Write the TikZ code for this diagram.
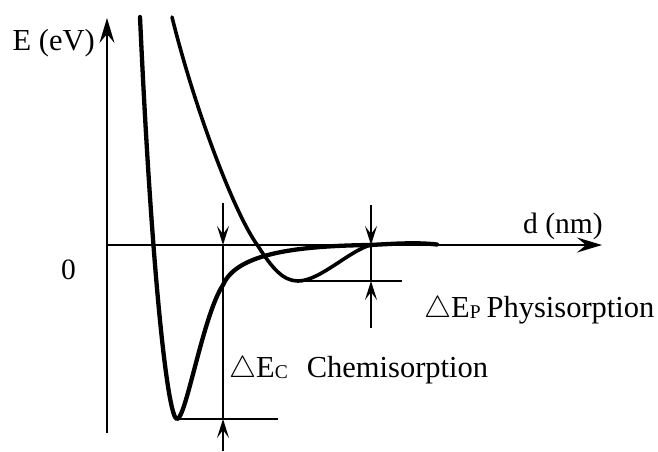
\documentclass[tikz,border=0pt]{standalone}
\usepackage{fontspec}
\setmainfont{Liberation Serif}
\usetikzlibrary{arrows.meta}
\newcommand{\subcap}[1]{\raisebox{-1pt}{\fontsize{19.5}{20}\selectfont #1}}
\newcommand{\bigtri}{\raisebox{-0.5pt}{\scalebox{1.22}{$\triangle$}}}
\begin{document}
\begin{tikzpicture}[x=1pt,y=-1pt,
  thinline/.style={line width=1.6pt},
  curve/.style={line width=3.8pt, line cap=round, line join=round},
  axisarrow/.style={thinline,-{Stealth[length=25pt,width=15pt,inset=9pt]}},
  dimarrow/.style={thinline,-{Stealth[length=19pt,width=12pt,inset=8pt]}},
  lbl/.style={inner sep=0pt, anchor=base west, font=\fontsize{30.5}{33}\selectfont}]
\useasboundingbox (0,0) rectangle (658,451);

% axes
\coordinate (O) at (107,245);
\coordinate (ytop) at (107,18);
\coordinate (ybot) at (107,433);
\coordinate (xend) at (602,245);
\draw[axisarrow] (ybot) -- (ytop);
\draw[axisarrow] (O) -- (xend);

% chemisorption curve
\draw[curve, line width=4.3pt] (140,17) .. controls (152,280) and (168,419) .. (177,419)
  .. controls (186,419) and (203,315) .. (223,285)
  .. controls (236,255) and (290,246) .. (370,245)
  .. controls (390,244) and (415,242) .. (437,244.5);

% physisorption curve
\draw[curve, line width=3.6pt] (172,17) .. controls (195,110) and (235,215) .. (258,246)
  .. controls (272,268) and (283,281) .. (298,281)
  .. controls (320,281) and (350,250) .. (371,245);

% chemisorption depth marker
\coordinate (c1top) at (223,203);
\coordinate (c1a) at (223,245);
\coordinate (c1b) at (223,419);
\coordinate (c1bot) at (223,451);
\coordinate (cminL) at (177,419);
\coordinate (cminR) at (278,419);
\draw[dimarrow] (c1top) -- (c1a);
\draw[thinline] (c1a) -- (c1b);
\draw[dimarrow] (c1bot) -- (c1b);
\draw[thinline] (cminL) -- (cminR);

% physisorption depth marker
\coordinate (p1top) at (371,205);
\coordinate (p1a) at (371,245);
\coordinate (p1b) at (371,281);
\coordinate (p1bot) at (371,328);
\coordinate (pminL) at (298,281);
\coordinate (pminR) at (402,281);
\draw[dimarrow] (p1top) -- (p1a);
\draw[thinline] (p1a) -- (p1b);
\draw[dimarrow] (p1bot) -- (p1b);
\draw[thinline] (pminL) -- (pminR);

% labels
\node[lbl] (ylabel) at (12.5,50) {E (eV)};
\node[lbl, font=\fontsize{29.5}{32}\selectfont] (zero) at (61,279) {0};
\node[lbl, font=\fontsize{29.5}{32}\selectfont] (xlabel) at (523,233) {d (nm)};
\node[lbl] (phys) at (424,317) {\bigtri E\subcap{P}\hspace{6pt}Physisorption};
\node[lbl] (chem) at (229,377) {\bigtri E\subcap{C}\hspace{19pt}Chemisorption};
\end{tikzpicture}
\end{document}
